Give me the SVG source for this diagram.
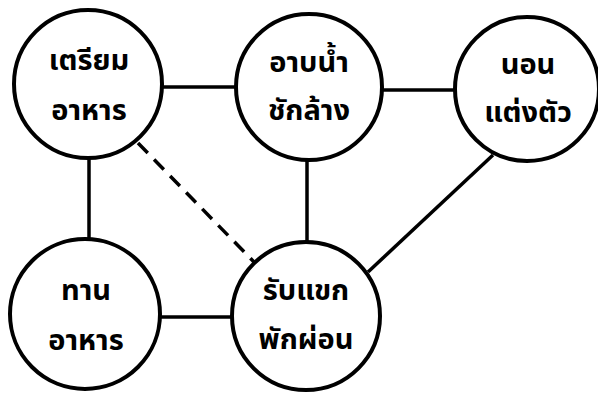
<svg xmlns="http://www.w3.org/2000/svg" width="598" height="393" viewBox="0 0 598 393">
<style>
.n{fill:#fff;stroke:#000;stroke-width:4}
.c{stroke:#000;stroke-width:3.5;fill:none}
.d{stroke-dasharray:14 9}
text{font-family:"Noto Sans Thai","Noto Sans","DejaVu Sans",sans-serif;font-weight:bold;font-size:29px;text-anchor:middle;fill:#000}
</style>
<rect width="598" height="393" fill="#fff"/>
<g id="connectors">
<line class="c" x1="163" y1="87" x2="237" y2="87"/>
<line class="c" x1="382" y1="90" x2="457" y2="90"/>
<line class="c" x1="89" y1="157" x2="89" y2="238"/>
<line class="c" x1="160" y1="317" x2="232" y2="317"/>
<line class="c" x1="307" y1="160" x2="307" y2="242"/>
<line class="c" x1="493" y1="155" x2="368" y2="272"/>
<line class="c d" x1="138" y1="143" x2="254" y2="262"/>
</g>
<g id="n1"><circle class="n" cx="88" cy="84" r="74"/><text x="89" y="70">เตรียม</text><text x="89" y="120">อาหาร</text></g>
<g id="n2"><circle class="n" cx="309" cy="87" r="73"/><text x="309" y="72">อาบน้ำ</text><text x="309" y="120">ชักล้าง</text></g>
<g id="n3"><circle class="n" cx="527" cy="89" r="72"/><text x="528" y="74">นอน</text><text x="528" y="122">แต่งตัว</text></g>
<g id="n4"><circle class="n" cx="85" cy="314" r="75"/><text x="86" y="300">ทาน</text><text x="86" y="350">อาหาร</text></g>
<g id="n5"><circle class="n" cx="306" cy="316" r="74"/><text x="306" y="300">รับแขก</text><text x="306" y="349">พักผ่อน</text></g>
</svg>
